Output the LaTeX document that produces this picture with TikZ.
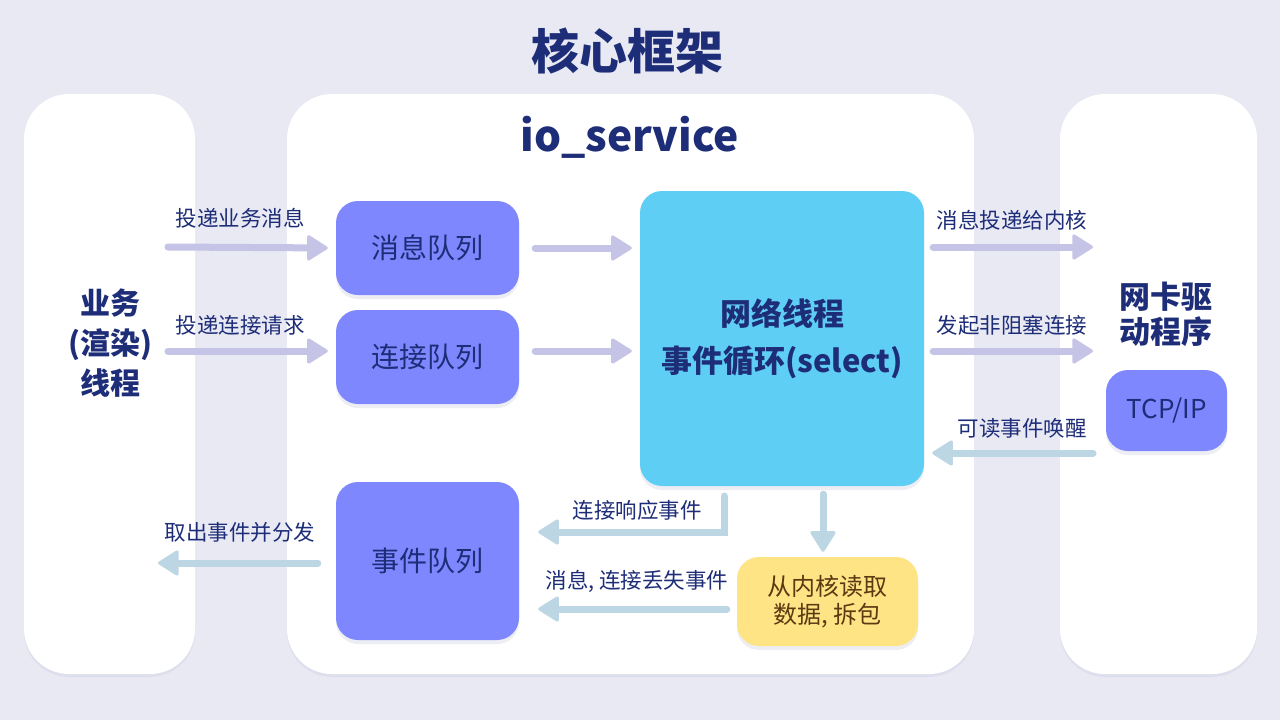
\documentclass[tikz,border=0pt]{standalone}
\usepackage{fontspec}
\setmainfont{Noto Sans CJK SC}
\usetikzlibrary{arrows.meta,shadows,calc}
\definecolor{bgc}{HTML}{E8E9F3}
\definecolor{navy}{HTML}{1E2D78}
\definecolor{qfill}{HTML}{7F87FF}
\definecolor{nfill}{HTML}{5ECEF4}
\definecolor{yfill}{HTML}{FFE486}
\definecolor{ytext}{HTML}{5B3A12}
\definecolor{arrF}{HTML}{C5C4E6}
\definecolor{arrB}{HTML}{BCD6E3}
\tikzset{
  panel/.style={fill=white, rounded corners=45pt, minimum width=#1, minimum height=580pt, inner sep=0pt,
    drop shadow={shadow xshift=0pt,shadow yshift=-3pt,opacity=0.05,fill=navy}},
  box/.style={rounded corners=22pt, inner sep=0pt, text=navy, align=center,
    drop shadow={shadow xshift=0pt,shadow yshift=-4pt,opacity=0.08,fill=navy}},
  qbox/.style={box, fill=qfill, font=\fontsize{28}{32}\selectfont},
  lbl/.style={text=navy, font=\fontsize{21.5}{24}\selectfont, inner sep=0pt},
  fwd/.style={line width=7pt, line cap=round, draw=arrF, -{Triangle[length=22pt,width=27pt,line width=3pt,round]}},
  back/.style={line width=7pt, line cap=round, draw=arrB, -{Triangle[length=22pt,width=27pt,line width=3pt,round]}},
}
\begin{document}
\begin{tikzpicture}[x=1pt,y=-1pt]
\fill[bgc] (0,0) rectangle (1280,720);
\useasboundingbox (0,0) rectangle (1280,720);

\node[text=navy, font=\fontsize{48}{52}\selectfont\bfseries] (title) at (627,51) {核心框架};

\node[panel=171pt] (lp) at (109.5,384) {};
\node[panel=687pt] (mp) at (630.5,384) {};
\node[panel=197pt] (rp) at (1158.5,384) {};

\node[text=navy, font=\fontsize{42.5}{50}\selectfont\bfseries] (io) at (630,137) {io\_service};
\node[text=navy, align=center, font=\fontsize{30}{40}\selectfont\bfseries] (biz) at (110,343) {业务\\(渲染)\\线程};
\node[text=navy, align=center, font=\fontsize{31}{35}\selectfont\bfseries] (nic) at (1166,314) {网卡驱\\动程序};

\node[qbox, minimum width=183pt, minimum height=94pt] (mq) at (427.5,248) {消息队列};
\node[qbox, minimum width=183pt, minimum height=94pt] (cq) at (427.5,357) {连接队列};
\node[qbox, minimum width=183pt, minimum height=158pt] (eq) at (427.5,561) {事件队列};
\node[box, fill=nfill, minimum width=284pt, minimum height=295pt,
      font=\fontsize{31}{47}\selectfont\bfseries] (nt) at (782,338.5) {网络线程\\事件循环(select)};
\node[box, fill=yfill, text=ytext, minimum width=181pt, minimum height=89pt,
      font=\fontsize{24}{28}\selectfont] (yb) at (827.5,601.5) {从内核读取\\数据, 拆包};
\node[qbox, minimum width=121pt, minimum height=81pt, font=\fontsize{26}{30}\selectfont] (tcp) at (1166.5,410.5) {TCP/IP};

% free ends
\coordinate (a1) at (168,247);
\coordinate (a2) at (168,351);
\coordinate (a3) at (1093,247);
\coordinate (a4) at (1093,351);
\coordinate (a5) at (1093,453);
\coordinate (a6) at (158,563);
\coordinate (cr) at (724,496);

% arrows
\draw[fwd, shorten >=8pt] (a1) -- (mq.west);
\draw[fwd, shorten >=8pt] (a2) -- (cq.west |- a2);
\draw[fwd, shorten <=16pt, shorten >=8pt] (mq.east) -- (nt.west |- mq.east);
\draw[fwd, shorten <=16pt, shorten >=8pt] (cq.east |- a2) -- (nt.west |- a2);
\draw[fwd, shorten <=9pt] (nt.east |- a3) -- (a3);
\draw[fwd, shorten <=9pt] (nt.east |- a4) -- (a4);
\draw[back, shorten >=8pt] (a5) -- (nt.east |- a5);
\draw[back, shorten >=19pt] (cr) |- (eq.east |- 0,532);
\draw[back, shorten <=8pt, shorten >=5pt] ([xshift=-4.5pt]yb.north |- nt.south) -- ([xshift=-4.5pt]yb.north);
\draw[back, shorten <=10pt, shorten >=19pt] (yb.west |- 0,609) -- (eq.east |- 0,609);
\draw[back, shorten <=18pt] (eq.west |- a6) -- (a6);

% labels
\node[lbl] (l1) at (240,218) {投递业务消息};
\node[lbl] (l2) at (240,325) {投递连接请求};
\node[lbl] (l3) at (1012,220) {消息投递给内核};
\node[lbl] (l4) at (1012,325) {发起非阻塞连接};
\node[lbl] (l5) at (1022,428) {可读事件唤醒};
\node[lbl] (l6) at (637,510) {连接响应事件};
\node[lbl] (l7) at (637,581) {消息, 连接丢失事件};
\node[lbl] (l8) at (240,532) {取出事件并分发};
\end{tikzpicture}
\end{document}
